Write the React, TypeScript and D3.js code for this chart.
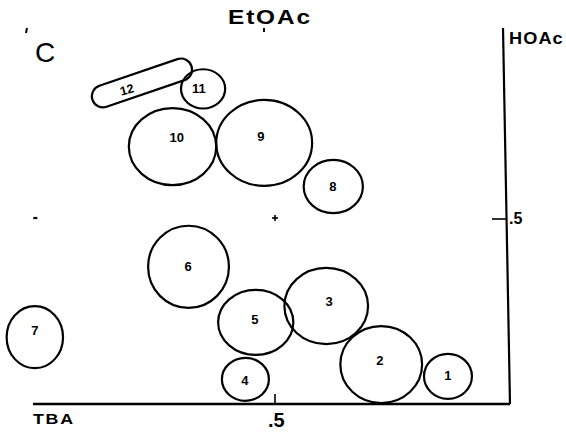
import React from "react";
import * as d3 from "d3";

// Spot data (Rf values): TBA (horizontal, origin at right), HOAc (vertical)
const spotIds = ["1", "2", "3", "4", "5", "6", "7", "8", "9", "10", "11"];
const spotTBA = [0.132, 0.274, 0.391, 0.563, 0.541, 0.684, 1.011, 0.376, 0.523, 0.718, 0.653];
const spotHOAc = [0.072, 0.104, 0.262, 0.064, 0.218, 0.368, 0.178, 0.585, 0.703, 0.693, 0.849];
const spotRadTBA = [0.051, 0.087, 0.089, 0.05, 0.08, 0.086, 0.06, 0.063, 0.102, 0.093, 0.047];
const spotRadHOAc = [0.061, 0.104, 0.103, 0.058, 0.088, 0.111, 0.084, 0.072, 0.116, 0.104, 0.053];
const labelTBA = [0.132, 0.277, 0.385, 0.564, 0.543, 0.685, 1.011, 0.377, 0.53, 0.709, 0.662];
const labelHOAc = [0.073, 0.116, 0.273, 0.062, 0.227, 0.368, 0.195, 0.586, 0.719, 0.717, 0.849];

// Streak spot 12 (capsule): two cap centers and half-width (HOAc units)
const streakTBA = [0.866, 0.7];
const streakHOAc = [0.829, 0.901];
const streakHalfWidth = 0.03;
const streakLabel = { id: "12", tba: 0.815, hoac: 0.846 };

const tickValues = [0.5];
const markerTBA = [1.01, 0.5];
const markerHOAc = [0.5, 0.5];

const W = 566;
const H = 437;

export default function App() {
  const x = d3.scaleLinear().domain([0, 1]).range([510, 40]);
  const y = d3.scaleLinear().domain([0, 1]).range([403, 33]);
  const pxPerX = Math.abs(x(1) - x(0));
  const pxPerY = Math.abs(y(1) - y(0));

  // capsule path
  const x1 = x(streakTBA[0]), y1 = y(streakHOAc[0]);
  const x2 = x(streakTBA[1]), y2 = y(streakHOAc[1]);
  const r = streakHalfWidth * pxPerY;
  const dx = x2 - x1, dy = y2 - y1;
  const len = Math.hypot(dx, dy);
  const nx = -dy / len, ny = dx / len;
  const capsule = `M${x1 + nx * r},${y1 + ny * r} L${x2 + nx * r},${y2 + ny * r} A${r},${r} 0 0 0 ${x2 - nx * r},${y2 - ny * r} L${x1 - nx * r},${y1 - ny * r} A${r},${r} 0 0 0 ${x1 + nx * r},${y1 + ny * r} Z`;
  const labelAngle = -15;

  const font = "'Liberation Sans', Arial, sans-serif";

  return (
    <svg
      width={W}
      height={H}
      style={{ position: "absolute", left: 0, top: 0, background: "#fff" }}
    >
      {/* axes */}
      <line x1={33} y1={y(0) + 1} x2={x(0)} y2={y(0) + 1} stroke="#000" strokeWidth={2.6} />
      <line x1={x(0)} y1={y(0) + 1} x2={x(0) - 7} y2={28} stroke="#000" strokeWidth={2.2} />
      {tickValues.map((t) => (
        <g key={"xt" + t}>
          <line x1={x(t)} x2={x(t)} y1={y(0)} y2={y(0) - 9} stroke="#000" strokeWidth={1.6} />
          <text x={268} y={427} fontFamily={font} fontWeight="bold" fontSize={20}>.5</text>
        </g>
      ))}
      {tickValues.map((t) => (
        <g key={"yt" + t}>
          <line x1={x(0) - 18} x2={x(0) - 4} y1={y(t) + 1} y2={y(t) + 1} stroke="#000" strokeWidth={1.6} />
          <text x={509} y={224} fontFamily={font} fontWeight="bold" fontSize={16}>.5</text>
        </g>
      ))}
      <text transform="translate(33,424) scale(1.15,1)" fontFamily={font} fontWeight="bold" fontSize={15.5} letterSpacing={1.5}>TBA</text>
      <text transform="translate(509,44) scale(1.1,1)" fontFamily={font} fontWeight="bold" fontSize={16.5} letterSpacing={1}>HOAc</text>
      <text transform="translate(228,24) scale(1.25,1)" fontFamily={font} fontWeight="bold" fontSize={19.5} letterSpacing={1.5}>EtOAc</text>
      <line x1={264} y1={28} x2={264} y2={32} stroke="#000" strokeWidth={2} />
      <text x={35} y={62} fontFamily={font} fontSize={28}>C</text>
      <line x1={27} y1={28} x2={26} y2={33} stroke="#000" strokeWidth={2} />

      {/* reference markers */}
      <line x1={x(markerTBA[0]) - 2} x2={x(markerTBA[0]) + 2} y1={y(markerHOAc[0])} y2={y(markerHOAc[0])} stroke="#000" strokeWidth={2.2} />
      <line x1={x(markerTBA[1]) - 3} x2={x(markerTBA[1]) + 3} y1={y(markerHOAc[1])} y2={y(markerHOAc[1])} stroke="#000" strokeWidth={1.6} />
      <line x1={x(markerTBA[1])} x2={x(markerTBA[1])} y1={y(markerHOAc[1]) - 3} y2={y(markerHOAc[1]) + 3} stroke="#000" strokeWidth={1.6} />

      {/* spots */}
      {spotIds.map((id, i) => (
        <g key={id}>
          <ellipse
            cx={x(spotTBA[i])}
            cy={y(spotHOAc[i])}
            rx={spotRadTBA[i] * pxPerX}
            ry={spotRadHOAc[i] * pxPerY}
            fill="none"
            stroke="#000"
            strokeWidth={2.2}
          />
          <text
            x={x(labelTBA[i])}
            y={y(labelHOAc[i])}
            fontFamily={font}
            fontWeight="bold"
            fontSize={13}
            textAnchor="middle"
            dominantBaseline="central"
          >
            {id}
          </text>
        </g>
      ))}
      <path d={capsule} fill="none" stroke="#000" strokeWidth={2.2} />
      <text
        x={x(streakLabel.tba)}
        y={y(streakLabel.hoac)}
        fontFamily={font}
        fontWeight="bold"
        fontSize={12.5}
        textAnchor="middle"
        dominantBaseline="central"
        transform={`rotate(${labelAngle}, ${x(streakLabel.tba)}, ${y(streakLabel.hoac)})`}
      >
        {streakLabel.id}
      </text>
    </svg>
  );
}
